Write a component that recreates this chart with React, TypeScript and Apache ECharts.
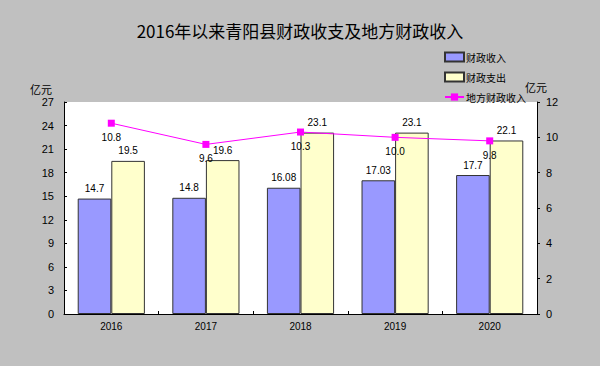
import React, { useEffect, useRef } from "react";
import * as echarts from "echarts";

const years = ["2016", "2017", "2018", "2019", "2020"];
const revenue = [14.7, 14.8, 16.08, 17.03, 17.7];
const expenditure = [19.5, 19.6, 23.1, 23.1, 22.1];
const localRevenue = [10.8, 9.6, 10.3, 10.0, 9.8];
const revenueLabels = ["14.7", "14.8", "16.08", "17.03", "17.7"];
const expLabels = ["19.5", "19.6", "23.1", "23.1", "22.1"];
const localLabels = ["10.8", "9.6", "10.3", "10.0", "9.8"];

const FONT = "'Liberation Sans', 'Noto Sans CJK SC', sans-serif";
const CJK = "'Noto Sans CJK SC', sans-serif";

export default function App() {
  const ref = useRef<HTMLDivElement>(null);
  useEffect(() => {
    if (!ref.current) return;
    const chart = echarts.init(ref.current, null, { renderer: "svg" });
    chart.setOption({
      animation: false,
      backgroundColor: "#c0c0c0",
      textStyle: { fontFamily: FONT },
      title: {
        text: "2016年以来青阳县财政收支及地方财政收入",
        left: "center",
        top: 17,
        textStyle: { fontSize: 17, fontWeight: "normal", color: "#000", fontFamily: CJK },
      },
      legend: {
        orient: "vertical",
        left: 439,
        top: 45,
        itemGap: 6,
        itemWidth: 19,
        itemHeight: 9,
        textStyle: { fontSize: 10, lineHeight: 14, color: "#000", padding: [0, 0, 0, -3], fontFamily: CJK },
        data: [
          { name: "财政收入", icon: "rect" },
          { name: "财政支出", icon: "rect" },
          { name: "地方财政收入" },
        ],
      },
      grid: { left: 64, right: 63, top: 102, bottom: 52, show: true, backgroundColor: "#ffffff", borderWidth: 0 },
      xAxis: {
        type: "category",
        data: years,
        axisLine: { lineStyle: { color: "#000", width: 1 } },
        axisTick: { show: true, inside: true, length: 3, lineStyle: { color: "#000" } },
        axisLabel: { fontSize: 10, color: "#000", margin: 7 },
      },
      yAxis: [
        {
          type: "value",
          min: 0,
          max: 27,
          interval: 3,
          name: "亿元",
          nameGap: 8,
          nameTextStyle: { fontSize: 11, color: "#000", align: "right", padding: [0, 12, 0, 0], fontFamily: CJK },
          axisLine: { show: true, lineStyle: { color: "#000" } },
          axisTick: { show: true, inside: true, length: 3, lineStyle: { color: "#000" } },
          axisLabel: { fontSize: 11, color: "#000", margin: 10 },
          splitLine: { show: false },
        },
        {
          type: "value",
          min: 0,
          max: 12,
          interval: 2,
          name: "亿元",
          nameGap: 10,
          nameTextStyle: { fontSize: 11, color: "#000", align: "left", padding: [0, 0, 0, -12], fontFamily: CJK },
          axisLine: { show: true, lineStyle: { color: "#000" } },
          axisTick: { show: true, length: 3, lineStyle: { color: "#000" } },
          axisLabel: { fontSize: 11, color: "#000", margin: 9 },
          splitLine: { show: false },
        },
      ],
      series: [
        {
          name: "财政收入",
          type: "bar",
          data: revenue,
          barGap: "0%",
          barCategoryGap: "29%",
          itemStyle: { color: "#9999ff", borderColor: "#333", borderWidth: 1 },
          label: {
            show: true,
            position: "top",
            fontSize: 10,
            color: "#000",
            distance: 5,
            formatter: (p: any) => revenueLabels[p.dataIndex],
          },
        },
        {
          name: "财政支出",
          type: "bar",
          data: expenditure,
          itemStyle: { color: "#ffffcc", borderColor: "#333", borderWidth: 1 },
          label: {
            show: true,
            position: "top",
            fontSize: 10,
            color: "#000",
            distance: 5,
            formatter: (p: any) => expLabels[p.dataIndex],
          },
        },
        {
          name: "地方财政收入",
          type: "line",
          yAxisIndex: 1,
          data: localRevenue,
          symbol: "rect",
          symbolSize: 7,
          lineStyle: { color: "#ff00ff", width: 1 },
          itemStyle: { color: "#ff00ff" },
          label: {
            show: true,
            position: "bottom",
            distance: 6,
            fontSize: 10,
            color: "#000",
            formatter: (p: any) => localLabels[p.dataIndex],
          },
          z: 5,
        },
      ],
    });
    return () => chart.dispose();
  }, []);
  return <div ref={ref} style={{ width: 600, height: 366, position: "absolute", left: 0, top: 0 }} />;
}
